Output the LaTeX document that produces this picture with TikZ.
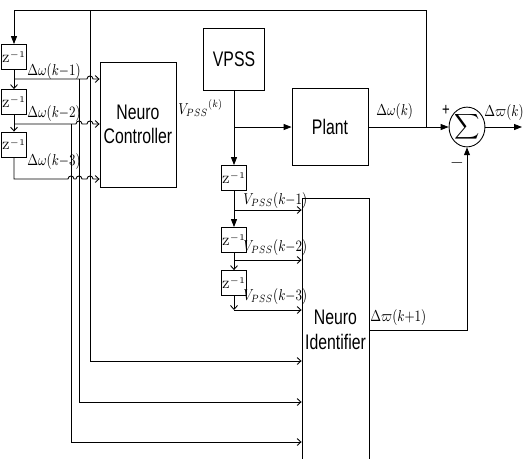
\documentclass[tikz,border=0pt]{standalone}
\usepackage{fontspec}
\usepackage{graphicx}
\setsansfont{Liberation Sans}[FakeStretch=0.75]
\usetikzlibrary{arrows.meta, positioning, shapes.geometric}

\newcommand{\narrowlbl}[1]{\scalebox{0.8}[1]{#1}}

\begin{document}
\begin{tikzpicture}[
        x=0.02cm, y=-0.02cm,
        box/.style={rectangle, draw=black, line width=0.5pt, align=center,
                    font=\sffamily\fontsize{12}{14}\selectfont, inner sep=0pt},
        zbox/.style={rectangle, draw=black, line width=0.5pt, inner sep=0pt,
                    minimum width=0.34cm, minimum height=0.5cm,
                    font=\fontsize{6}{6}\selectfont},
        lbl/.style={inner sep=0pt, anchor=west, font=\fontsize{9}{10}\selectfont},
        arrow/.style={-{Triangle[length=4.5pt, width=3.4pt]}, line width=0.5pt},
        feed/.style={-{Straight Barb[length=2.2pt, width=4pt]}, line width=0.5pt},
        line/.style={line width=0.5pt},
    ]
    \useasboundingbox (0,0) rectangle (523,458);

    % ====== blocks ======
    \node[box, minimum width=1.52cm, minimum height=2.5cm] (ctrl) at (138,124.5) {Neuro\\Controller};
    \node[box, minimum width=1.22cm, minimum height=1.24cm] (vpss) at (234,59) {VPSS};
    \node[box, minimum width=1.52cm, minimum height=1.54cm] (plant) at (330,127) {Plant};
    \node[box, minimum width=1.34cm, minimum height=5.28cm] (ident) at (335.5,330) {Neuro\\Identifier};
    \node[ellipse, draw=black, line width=0.5pt, inner sep=0pt,
          minimum width=0.5cm, minimum height=0.76cm] (sum) at (467,127)
          {\fontsize{8}{8}\selectfont$\displaystyle\sum$};

    % ====== delay chain (left) ======
    \node[zbox] (z1) at (14,57)    {Z$^{\scriptscriptstyle -1}$};
    \node[zbox] (z2) at (14,102)   {Z$^{\scriptscriptstyle -1}$};
    \node[zbox] (z3) at (14,144.5) {Z$^{\scriptscriptstyle -1}$};

    % ====== delay chain (VPSS) ======
    \node[zbox] (zv1) at (234,178) {Z$^{\scriptscriptstyle -1}$};
    \node[zbox] (zv2) at (234,240) {Z$^{\scriptscriptstyle -1}$};
    \node[zbox] (zv3) at (234,283) {Z$^{\scriptscriptstyle -1}$};

    % ====== branch points ======
    \coordinate (tl) at (14,10);
    \coordinate (tr) at (426,10);
    \coordinate (tap) at (426,127);
    \coordinate (b1) at (14,79);
    \coordinate (b2) at (14,124);
    \coordinate (b3) at (14,179);
    \coordinate (d0) at (90,10);
    \coordinate (d1) at (79,79);
    \coordinate (d2) at (71,124);
    \coordinate (e0) at (90,361);
    \coordinate (e1) at (79,402);
    \coordinate (e2) at (71,442);
    \coordinate (v0) at (234,127);
    \coordinate (v1) at (234,210);
    \coordinate (v2) at (234,260);
    \coordinate (v3) at (234,310);
    \coordinate (fb) at (467,330);
    \coordinate (out) at (522,127);

    % ====== feedback and left chain ======
    \draw[line] (tl) -- (tr) -- (tap);
    \draw[arrow] (tl) -- (z1);
    \draw[feed] (z1) -- (z2);
    \draw[feed] (z2) -- (z3);
    \draw[feed] (b1) -- (87,79) .. controls (87,75) and (93,75) .. (93,79)
        -- (ctrl.west |- b1);
    \draw[feed] (b2) -- (76,124) .. controls (76,120) and (82,120) .. (82,124)
        -- (87,124) .. controls (87,120) and (93,120) .. (93,124)
        -- (ctrl.west |- b2);
    \draw[feed] (z3) -- (b3) -- (68,179) .. controls (68,175) and (74,175) .. (74,179)
        -- (76,179) .. controls (76,175) and (82,175) .. (82,179)
        -- (87,179) .. controls (87,175) and (93,175) .. (93,179)
        -- (ctrl.west |- b3);

    % ====== inputs of the identifier ======
    \draw[feed] (d0) -- (e0) -- (ident.west |- e0);
    \draw[feed] (d1) -- (e1) -- (ident.west |- e1);
    \draw[feed] (d2) -- (e2) -- (ident.west |- e2);

    % ====== VPSS chain ======
    \draw[arrow] (vpss) -- (zv1);
    \draw[arrow] (v0) -- (plant);
    \draw[arrow] (zv1) -- (zv2);
    \draw[feed] (zv2) -- (zv3);
    \draw[feed] (zv3) -- (v3);
    \draw[feed] (v1) -- (ident.west |- v1);
    \draw[feed] (v2) -- (ident.west |- v2);
    \draw[feed] (v3) -- (ident.west |- v3);

    % ====== summing junction ======
    \draw[arrow] (plant) -- (sum);
    \draw[arrow] (sum) -- (out);
    \draw[arrow] (ident.east |- fb) -- (fb) -- (sum);

    % ====== labels ======
    \node[lbl] (lk1) at (27,72)   {\narrowlbl{$\Delta\omega(k{-}1)$}};
    \node[lbl] (lk2) at (27,114)  {\narrowlbl{$\Delta\omega(k{-}2)$}};
    \node[lbl] (lk3) at (27,162)  {\narrowlbl{$\Delta\omega(k{-}3)$}};
    \node[lbl] (lv0) at (178,108) {\narrowlbl{$V_{PSS}{}^{(k)}$}};
    \node[lbl] (lv1) at (243,201) {\narrowlbl{$V_{PSS}(k{-}1)$}};
    \node[lbl] (lv2) at (243,248) {\narrowlbl{$V_{PSS}(k{-}2)$}};
    \node[lbl] (lv3) at (243,297) {\narrowlbl{$V_{PSS}(k{-}3)$}};
    \node[lbl] (lw)  at (376,112) {\narrowlbl{$\Delta\omega(k)$}};
    \node[lbl] (lwo) at (484,113) {\narrowlbl{$\Delta\varpi(k)$}};
    \node[lbl] (lwi) at (370,318) {\narrowlbl{$\Delta\varpi(k{+}1)$}};
    \node[lbl, anchor=center, font=\sffamily\fontsize{10}{10}\selectfont] (plus)  at (446,110) {+};
    \node[lbl, anchor=center, font=\sffamily\fontsize{10}{10}\selectfont] (minus) at (457,163) {$-$};

\end{tikzpicture}
\end{document}
